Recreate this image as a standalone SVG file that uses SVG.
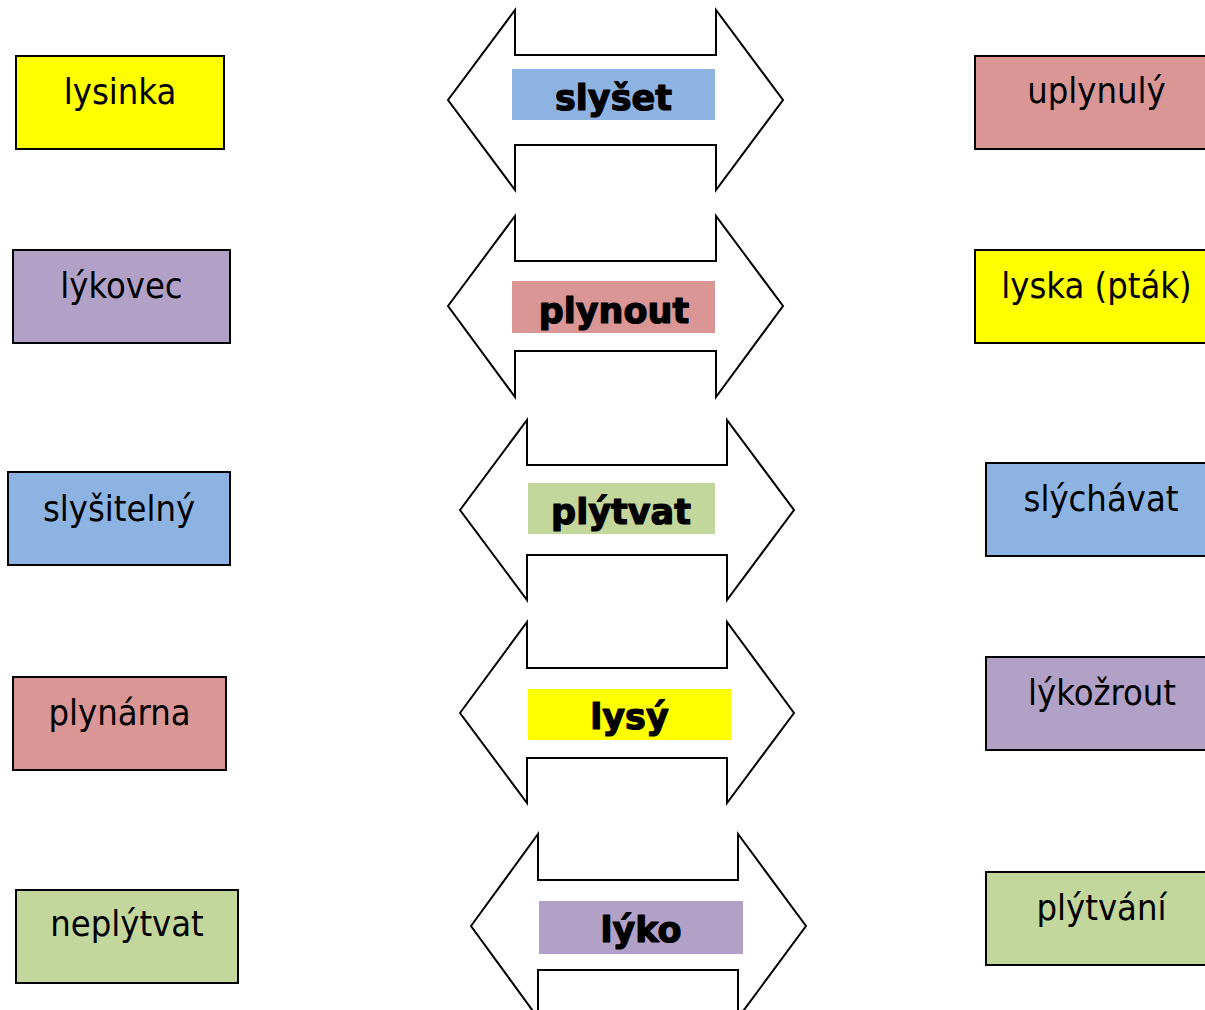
<svg xmlns="http://www.w3.org/2000/svg" width="1205" height="1010" viewBox="0 0 1205 1010">
<defs>
<style>
.box{stroke:#000;stroke-width:2}
.word{font-family:"DejaVu Sans Condensed","Liberation Sans",sans-serif;font-size:36px;fill:#000;text-anchor:middle}
.arrow{fill:#fff;stroke:#000;stroke-width:2;stroke-linejoin:miter}
.lbl{font-family:"DejaVu Sans","Liberation Sans",sans-serif;font-weight:bold;font-size:35px;fill:#000;stroke:#000;stroke-width:1.2;stroke-linejoin:round;text-anchor:middle}
.yel{fill:#FFFF00}.pur{fill:#B2A1C7}.blu{fill:#8DB3E2}.red{fill:#D99694}.grn{fill:#C3D69B}
</style>
</defs>
<rect width="1205" height="1010" fill="#fff"/>
<g id="connectors"></g>

<!-- left column -->
<g id="lysinka"><rect class="box yel" x="16" y="56" width="208" height="93"/><text class="word" x="120" y="104">lysinka</text></g>
<g id="lykovec"><rect class="box pur" x="13" y="250" width="217" height="93"/><text class="word" x="121.5" y="298">lýkovec</text></g>
<g id="slysitelny"><rect class="box blu" x="8" y="472" width="222" height="93"/><text class="word" x="119" y="521">slyšitelný</text></g>
<g id="plynarna"><rect class="box red" x="13" y="677" width="213" height="93"/><text class="word" x="119.5" y="725">plynárna</text></g>
<g id="neplytvat"><rect class="box grn" x="16" y="890" width="222" height="93"/><text class="word" x="127" y="936">neplýtvat</text></g>

<!-- right column -->
<g id="uplynuly"><rect class="box red" x="975" y="56" width="243" height="93"/><text class="word" x="1096.5" y="103">uplynulý</text></g>
<g id="lyska"><rect class="box yel" x="975" y="250" width="243" height="93"/><text class="word" x="1096.5" y="298">lyska (pták)</text></g>
<g id="slychavat"><rect class="box blu" x="986" y="463" width="232" height="93"/><text class="word" x="1101" y="511">slýchávat</text></g>
<g id="lykozrout"><rect class="box pur" x="986" y="657" width="232" height="93"/><text class="word" x="1102" y="705">lýkožrout</text></g>
<g id="plytvani"><rect class="box grn" x="986" y="872" width="232" height="93"/><text class="word" x="1101.5" y="920">plýtvání</text></g>

<!-- central double arrows -->
<g id="slyset">
<polygon class="arrow" points="448,100 515,10 515,55 716,55 716,10 783,100 716,190 716,145 515,145 515,190"/>
<rect class="blu" x="512" y="69" width="203" height="51"/>
<text class="lbl" x="613.5" y="110">slyšet</text>
</g>
<g id="plynout">
<polygon class="arrow" points="448,306 515,216 515,261 716,261 716,216 783,306 716,397 716,351 515,351 515,397"/>
<rect class="red" x="512" y="281" width="203" height="52"/>
<text class="lbl" x="614" y="323">plynout</text>
</g>
<g id="plytvat">
<polygon class="arrow" points="460,510 527,420 527,465 727,465 727,420 794,510 727,600 727,555 527,555 527,600"/>
<rect class="grn" x="528" y="483" width="187" height="51"/>
<text class="lbl" x="621" y="524">plýtvat</text>
</g>
<g id="lysy">
<polygon class="arrow" points="460,713 527,622 527,668 727,668 727,622 794,713 727,803 727,758 527,758 527,803"/>
<rect class="yel" x="528" y="689" width="203" height="51"/>
<text class="lbl" x="629.5" y="729">lysý</text>
</g>
<g id="lyko">
<polygon class="arrow" points="471,926 538,834 538,880 738,880 738,834 806,926 738,1018 738,970 538,970 538,1018"/>
<rect class="pur" x="539" y="901" width="204" height="53"/>
<text class="lbl" x="641" y="942">lýko</text>
</g>
</svg>
